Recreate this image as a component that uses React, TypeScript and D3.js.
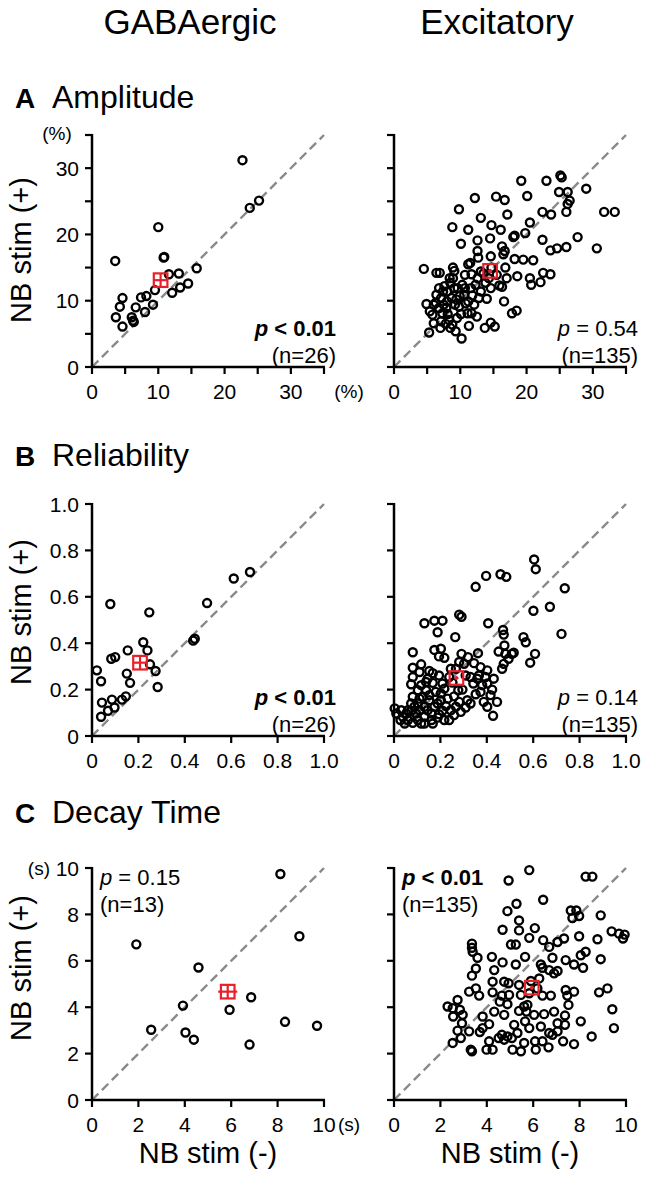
import React from "react";
import * as d3 from "d3";

// ---------- DATA ----------
const columnTitles = ["GABAergic", "Excitatory"];
const rowLetters = ["A", "B", "C"];
const rowTitles = ["Amplitude", "Reliability", "Decay Time"];

// Amplitude (%)
const ampGabaX = [22.7, 23.8, 25.2, 3.5, 10.0, 10.8, 10.9, 15.8, 11.6, 13.1, 9.5, 12.1, 13.3, 14.5, 4.6, 7.4, 8.2, 4.2, 6.6, 8.0, 9.2, 3.6, 4.6, 6.0, 6.2, 6.3];
const ampGabaY = [31.2, 24.0, 25.1, 16.0, 21.1, 16.5, 16.6, 14.9, 14.0, 14.1, 11.6, 11.2, 12.0, 12.6, 10.4, 10.5, 10.7, 9.1, 9.0, 8.3, 9.4, 7.5, 6.1, 7.5, 7.0, 6.8];
const ampExcX = [19.2, 23.0, 25.1, 25.3, 24.9, 26.2, 29.0, 26.5, 26.2, 26.0, 20.1, 15.4, 16.7, 12.2, 9.8, 13.1, 17.1, 22.4, 23.7, 31.7, 33.3, 8.8, 11.2, 14.7, 16.1, 18.0, 18.2, 19.8, 20.5, 22.4, 27.7, 23.6, 24.6, 26.0, 30.6, 10.1, 12.6, 14.5, 16.3, 16.7, 12.6, 12.7, 11.2, 11.5, 14.6, 16.5, 18.2, 19.5, 21.0, 14.7, 16.8, 18.6, 20.5, 22.5, 23.6, 20.7, 22.1, 4.5, 6.4, 6.9, 8.9, 9.1, 10.7, 11.7, 13.1, 13.5, 15.5, 15.9, 17.0, 14.6, 16.3, 16.6, 17.8, 18.5, 13.7, 14.6, 15.2, 10.2, 5.3, 7.0, 7.8, 8.8, 11.3, 4.9, 6.3, 5.8, 7.1, 8.1, 9.2, 10.1, 11.1, 11.7, 12.1, 12.8, 13.1, 11.6, 10.6, 9.6, 8.5, 8.0, 7.6, 8.9, 8.4, 10.3, 11.8, 7.1, 6.8, 6.4, 7.5, 9.4, 8.7, 9.8, 12.5, 8.0, 7.3, 8.5, 9.5, 10.8, 12.3, 14.0, 13.8, 9.9, 11.2, 6.8, 6.0, 7.9, 8.3, 5.4, 7.4, 9.1, 10.7, 12.6, 14.3, 9.3, 6.0];
const ampExcY = [28.1, 28.1, 28.9, 28.6, 26.4, 26.4, 26.9, 25.1, 24.6, 23.4, 25.8, 25.7, 25.2, 25.5, 23.8, 22.5, 23.0, 23.4, 23.0, 23.4, 23.4, 21.1, 20.7, 21.4, 20.7, 19.6, 19.8, 20.2, 21.8, 19.2, 19.6, 17.6, 17.9, 18.1, 17.9, 18.6, 19.1, 19.4, 18.2, 17.5, 17.5, 16.5, 15.5, 15.7, 16.7, 17.0, 16.3, 16.2, 16.1, 15.0, 15.0, 13.7, 13.4, 14.2, 14.0, 12.4, 12.8, 14.8, 14.2, 14.2, 15.0, 14.5, 13.9, 14.0, 14.4, 14.1, 13.9, 12.3, 13.4, 11.9, 12.1, 9.9, 8.1, 8.5, 5.9, 6.7, 6.1, 4.3, 5.2, 5.9, 6.5, 6.4, 6.2, 9.5, 9.7, 7.9, 6.9, 8.0, 9.4, 8.0, 8.1, 8.1, 9.4, 10.4, 11.4, 11.9, 10.9, 11.9, 12.7, 11.4, 12.2, 13.4, 13.4, 12.4, 10.8, 10.4, 8.9, 10.9, 9.4, 10.2, 10.4, 9.1, 7.6, 9.9, 8.1, 5.9, 7.4, 9.6, 12.4, 10.3, 12.7, 10.7, 9.9, 11.9, 9.4, 8.9, 7.1, 8.4, 11.4, 11.9, 11.9, 13.4, 13.4, 5.4, 6.6];

// Reliability
const relGabaX = [0.079, 0.247, 0.611, 0.681, 0.496, 0.436, 0.443, 0.221, 0.239, 0.154, 0.083, 0.100, 0.021, 0.039, 0.150, 0.164, 0.25, 0.274, 0.283, 0.043, 0.086, 0.129, 0.146, 0.097, 0.069, 0.039];
const relGabaY = [0.569, 0.533, 0.679, 0.707, 0.573, 0.411, 0.419, 0.404, 0.369, 0.369, 0.333, 0.340, 0.283, 0.236, 0.269, 0.229, 0.309, 0.28, 0.211, 0.144, 0.157, 0.157, 0.171, 0.123, 0.109, 0.083];
const relExcX = [0.604, 0.611, 0.397, 0.459, 0.484, 0.352, 0.736, 0.672, 0.601, 0.722, 0.281, 0.291, 0.131, 0.174, 0.209, 0.188, 0.264, 0.406, 0.47, 0.473, 0.476, 0.558, 0.568, 0.451, 0.48, 0.508, 0.516, 0.494, 0.473, 0.466, 0.608, 0.587, 0.081, 0.174, 0.202, 0.194, 0.217, 0.291, 0.319, 0.362, 0.345, 0.302, 0.281, 0.117, 0.11, 0.152, 0.167, 0.081, 0.074, 0.138, 0.167, 0.209, 0.238, 0.309, 0.33, 0.366, 0.394, 0.43, 0.402, 0.423, 0.416, 0.444, 0.402, 0.427, 0.352, 0.387, 0.295, 0.252, 0.281, 0.316, 0.309, 0.288, 0.259, 0.238, 0.202, 0.209, 0.188, 0.162, 0.131, 0.103, 0.081, 0.046, 0.003, 0.031, 0.06, 0.053, 0.074, 0.088, 0.103, 0.11, 0.131, 0.145, 0.162, 0.174, 0.124, 0.152, 0.18, 0.138, 0.103, 0.081, 0.117, 0.202, 0.217, 0.231, 0.259, 0.267, 0.33, 0.359, 0.373, 0.38, 0.245, 0.267, 0.342, 0.081, 0.145, 0.194, 0.188, 0.038, 0.06, 0.117, 0.167, 0.194, 0.224, 0.245, 0.074, 0.095, 0.152, 0.131, 0.01, 0.028, 0.217, 0.277, 0.373, 0.402, 0.11];
const relExcY = [0.761, 0.719, 0.69, 0.697, 0.686, 0.643, 0.637, 0.557, 0.54, 0.44, 0.523, 0.514, 0.486, 0.497, 0.497, 0.447, 0.426, 0.486, 0.457, 0.437, 0.39, 0.426, 0.404, 0.364, 0.354, 0.354, 0.359, 0.333, 0.311, 0.29, 0.354, 0.316, 0.361, 0.371, 0.376, 0.343, 0.337, 0.354, 0.34, 0.357, 0.314, 0.311, 0.319, 0.309, 0.276, 0.28, 0.271, 0.254, 0.223, 0.233, 0.229, 0.226, 0.254, 0.261, 0.254, 0.261, 0.254, 0.247, 0.226, 0.2, 0.176, 0.147, 0.126, 0.087, 0.18, 0.147, 0.2, 0.23, 0.147, 0.154, 0.123, 0.104, 0.09, 0.069, 0.154, 0.109, 0.079, 0.069, 0.083, 0.069, 0.057, 0.054, 0.119, 0.111, 0.111, 0.097, 0.109, 0.126, 0.14, 0.111, 0.126, 0.111, 0.097, 0.126, 0.169, 0.176, 0.19, 0.197, 0.197, 0.169, 0.219, 0.183, 0.204, 0.161, 0.171, 0.126, 0.14, 0.247, 0.19, 0.219, 0.29, 0.29, 0.226, 0.294, 0.247, 0.261, 0.14, 0.083, 0.069, 0.054, 0.054, 0.094, 0.129, 0.111, 0.14, 0.097, 0.154, 0.054, 0.097, 0.069, 0.069, 0.197, 0.297, 0.283, 0.161];

// Decay time (s)
const decGabaX = [8.12, 8.94, 1.91, 4.59, 3.92, 2.55, 4.03, 4.39, 5.93, 6.86, 6.79, 8.32, 9.7];
const decGabaY = [9.74, 7.06, 6.71, 5.71, 4.07, 3.03, 2.91, 2.6, 3.89, 4.43, 2.39, 3.37, 3.2];
const decExcX = [5.83, 4.94, 8.26, 8.55, 6.43, 5.28, 4.89, 5.39, 7.62, 7.86, 7.69, 7.98, 8.91, 4.68, 5.39, 6.07, 5.83, 6.43, 5.04, 5.25, 6.69, 7.05, 7.33, 7.98, 8.77, 9.38, 9.70, 9.94, 9.87, 3.36, 3.36, 3.60, 4.22, 4.68, 5.25, 5.65, 6.33, 6.40, 6.83, 7.40, 7.76, 8.05, 8.15, 8.91, 3.53, 3.36, 4.32, 4.75, 4.94, 5.39, 5.90, 6.26, 6.69, 7.05, 3.24, 3.67, 4.25, 4.65, 4.96, 5.47, 6.18, 6.40, 6.76, 7.40, 7.47, 7.52, 8.84, 9.20, 2.31, 2.53, 2.74, 2.84, 2.55, 2.93, 3.82, 4.32, 4.56, 4.89, 5.39, 5.75, 5.71, 5.65, 6.04, 6.47, 5.61, 7.37, 7.37, 7.05, 8.05, 9.41, 9.48, 2.74, 3.24, 3.70, 4.10, 2.53, 3.31, 3.36, 3.99, 4.25, 4.51, 4.65, 4.89, 5.08, 5.32, 5.11, 5.47, 5.61, 6.08, 6.11, 6.66, 6.69, 6.83, 7.05, 7.29, 7.76, 8.52, 4.75, 5.18, 6.33, 5.83, 4.10, 2.88, 3.82, 6.40, 5.83, 4.25, 6.90, 7.76, 4.75, 3.53, 3.39, 6.90, 8.26, 2.96];
const decExcY = [9.91, 9.46, 9.63, 9.63, 8.63, 8.46, 8.14, 7.74, 8.17, 8.17, 7.84, 7.93, 7.96, 7.34, 7.31, 7.41, 6.99, 6.89, 6.70, 6.70, 6.60, 6.81, 6.96, 7.06, 6.93, 7.27, 7.17, 7.13, 6.96, 6.74, 6.56, 6.13, 6.17, 5.93, 5.84, 6.17, 5.84, 5.70, 6.13, 6.03, 5.84, 6.24, 5.70, 6.07, 5.67, 5.36, 5.60, 5.10, 5.03, 4.96, 5.13, 5.24, 5.60, 5.56, 4.67, 4.50, 4.64, 4.50, 4.53, 4.53, 4.81, 4.50, 4.50, 4.74, 4.50, 4.10, 4.64, 4.81, 4.03, 3.96, 4.31, 3.89, 3.60, 3.31, 3.60, 3.81, 4.24, 4.13, 3.84, 4.10, 3.81, 3.39, 3.67, 3.70, 4.03, 3.64, 3.24, 3.31, 3.39, 3.91, 3.10, 2.99, 2.96, 2.93, 3.27, 2.46, 2.17, 2.10, 2.17, 2.17, 2.67, 2.81, 2.74, 2.67, 2.89, 2.17, 2.10, 2.46, 2.53, 2.17, 2.27, 2.89, 2.81, 2.96, 2.53, 2.41, 2.74, 3.67, 3.24, 3.17, 3.10, 2.53, 2.67, 3.10, 2.53, 4.60, 5.10, 3.81, 4.67, 2.60, 4.81, 6.39, 5.46, 6.39, 3.67];

// Means (x, y) and error bar half-lengths (x, y), in data units
const meanX = [10.35, 14.5, 0.207, 0.269, 5.85, 5.94];
const meanY = [13.1, 14.5, 0.316, 0.25, 4.67, 4.84];
const meanErrX = [1.0, 0.3, 0.028, 0.009, 0.41, 0.09];
const meanErrY = [1.0, 0.3, 0.028, 0.009, 0.28, 0.09];

// Stats text
const pOps = ["<", "=", "<", "=", "=", "<"];
const pVals = ["0.01", "0.54", "0.01", "0.14", "0.15", "0.01"];
const pBold = [true, false, true, false, false, true];
const nVals = [26, 135, 26, 135, 13, 135];

// Axes
const rowMax = [35, 1, 10];
const rowTicks = [
  [0, 5, 10, 15, 20, 25, 30, 35],
  [0, 0.2, 0.4, 0.6, 0.8, 1.0],
  [0, 2, 4, 6, 8, 10],
];
const rowTickLabels = [
  ["0", "", "10", "", "20", "", "30", ""],
  ["0", "0.2", "0.4", "0.6", "0.8", "1.0"],
  ["0", "2", "4", "6", "8", "10"],
];
const rowUnits = ["(%)", "", "(s)"];
const yTitle = "NB stim (+)";
const xTitle = "NB stim (-)";

// ---------- LAYOUT ----------
const FONT = "'Liberation Sans', Arial, Helvetica, sans-serif";
const colLeft = [92, 394];
const rowBottom = [367, 736, 1100];
const SIZE = 232;
const RED = "#e8202a";

type PanelProps = { row: number; col: number; xs: number[]; ys: number[] };

function Panel({ row, col, xs, ys }: PanelProps) {
  const idx = row * 2 + col;
  const x0 = colLeft[col];
  const y0 = rowBottom[row];
  const max = rowMax[row];
  const x = d3.scaleLinear().domain([0, max]).range([x0, x0 + SIZE]);
  const y = d3.scaleLinear().domain([0, max]).range([y0, y0 - SIZE]);
  const ticks = rowTicks[row];
  const labels = rowTickLabels[row];
  const mx = meanX[idx], my = meanY[idx];
  const ex = meanErrX[idx], ey = meanErrY[idx];
  const half = 6.8;
  const statsTopLeft = row === 2;
  const statX = statsTopLeft ? x0 + 8 : x0 + SIZE + 12;
  const statAnchor = statsTopLeft ? "start" : "end";
  const statY1 = statsTopLeft ? y0 - SIZE + 9 : y0 - 39;
  const statY2 = statY1 + 27;
  const pOp = pOps[idx];
  return (
    <g>
      <line x1={x(0)} y1={y(0)} x2={x(max)} y2={y(max)} stroke="#8a8a8a" strokeWidth={2.4} strokeDasharray="9 5" />
      {xs.map((v, i) => (
        <circle key={i} cx={x(v)} cy={y(ys[i])} r={4} fill="none" stroke="#000" strokeWidth={2.4} />
      ))}
      <rect x={x(mx) - half} y={y(my) - half} width={half * 2} height={half * 2} fill="none" stroke={RED} strokeWidth={2.2} />
      <line x1={x(mx - ex)} x2={x(mx + ex)} y1={y(my)} y2={y(my)} stroke={RED} strokeWidth={2.2} />
      <line x1={x(mx)} x2={x(mx)} y1={y(my - ey)} y2={y(my + ey)} stroke={RED} strokeWidth={2.2} />
      <line x1={x0} x2={x0 + SIZE + 1} y1={y0} y2={y0} stroke="#000" strokeWidth={2.5} />
      <line x1={x0} x2={x0} y1={y0 + 1} y2={y0 - SIZE - 1} stroke="#000" strokeWidth={2.5} />
      {ticks.map((t, i) => (
        <g key={"t" + i}>
          <line x1={x(t)} x2={x(t)} y1={y0} y2={y0 + 7} stroke="#000" strokeWidth={2.2} />
          <line x1={x0 - 7} x2={x0} y1={y(t)} y2={y(t)} stroke="#000" strokeWidth={2.2} />
          {labels[i] !== "" && (
            <text x={x(t)} y={y0 + 24} textAnchor="middle" dominantBaseline="central" fontSize={21} fontFamily={FONT}>{labels[i]}</text>
          )}
          {col === 0 && labels[i] !== "" && (
            <text x={x0 - 13} y={y(t)} textAnchor="end" dominantBaseline="central" fontSize={21} fontFamily={FONT}>{labels[i]}</text>
          )}
        </g>
      ))}
      {col === 0 && rowUnits[row] !== "" && (
        <>
          <text x={x0 + SIZE + 25} y={y0 + 24} textAnchor="middle" dominantBaseline="central" fontSize={19} fontFamily={FONT}>{rowUnits[row]}</text>
          {row === 0 ? (
            <text x={57} y={y(max) - 2} textAnchor="middle" dominantBaseline="central" fontSize={19} fontFamily={FONT}>{rowUnits[row]}</text>
          ) : (
            <text x={50} y={y(max)} textAnchor="end" dominantBaseline="central" fontSize={19} fontFamily={FONT}>{rowUnits[row]}</text>
          )}
        </>
      )}
      <text x={statX} y={statY1} textAnchor={statAnchor} dominantBaseline="central" fontSize={22} fontFamily={FONT} fontWeight={pBold[idx] ? "bold" : "normal"}>
        <tspan fontStyle="italic">p</tspan>
        <tspan>{` ${pOp} ${pVals[idx]}`}</tspan>
      </text>
      <text x={statX} y={statY2} textAnchor={statAnchor} dominantBaseline="central" fontSize={22} fontFamily={FONT}>{`(n=${nVals[idx]})`}</text>
    </g>
  );
}

export default function App() {
  const data = [
    [ampGabaX, ampGabaY, ampExcX, ampExcY],
    [relGabaX, relGabaY, relExcX, relExcY],
    [decGabaX, decGabaY, decExcX, decExcY],
  ];
  const rowTitleY = [108, 466, 823];
  const yTitleCenter = [250, 612, 968];
  return (
    <svg width={652} height={1177} style={{ display: "block", position: "absolute", left: 0, top: 0, background: "#fff" }}>
      <rect width={652} height={1177} fill="#fff" />
      {columnTitles.map((t, i) => (
        <text key={t} x={[190, 497][i]} y={34} textAnchor="middle" fontSize={35} fontFamily={FONT}>{t}</text>
      ))}
      {rowLetters.map((l, r) => (
        <g key={l}>
          <text x={15} y={rowTitleY[r]} fontSize={28} fontWeight="bold" fontFamily={FONT}>{l}</text>
          <text x={52} y={rowTitleY[r]} fontSize={32} fontFamily={FONT}>{rowTitles[r]}</text>
          <text transform={`translate(31,${yTitleCenter[r]}) rotate(-90)`} textAnchor="middle" fontSize={29} fontFamily={FONT}>{yTitle}</text>
        </g>
      ))}
      {data.map((d, r) => (
        <g key={r}>
          <Panel row={r} col={0} xs={d[0]} ys={d[1]} />
          <Panel row={r} col={1} xs={d[2]} ys={d[3]} />
        </g>
      ))}
      {[0, 1].map((c) => (
        <text key={c} x={colLeft[c] + SIZE / 2} y={1163} textAnchor="middle" fontSize={29} fontFamily={FONT}>{xTitle}</text>
      ))}
    </svg>
  );
}
